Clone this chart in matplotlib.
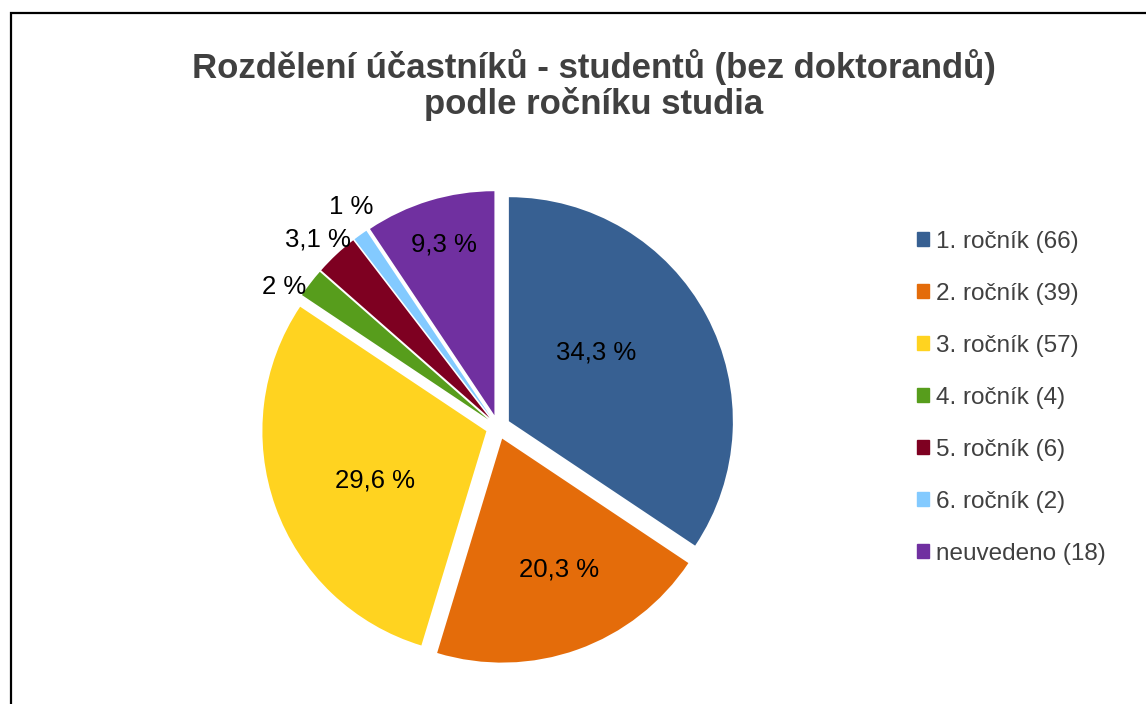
import numpy as np
import matplotlib
matplotlib.use("Agg")
import matplotlib.pyplot as plt
from matplotlib.patches import Rectangle

plt.rcParams['font.family'] = ['Liberation Sans', 'DejaVu Sans']

# data
categories = ["1. ročník", "2. ročník", "3. ročník", "4. ročník",
              "5. ročník", "6. ročník", "neuvedeno"]
counts = [66, 39, 57, 4, 6, 2, 18]
pct_labels = ["34,3 %", "20,3 %", "29,6 %", "2 %", "3,1 %", "1 %", "9,3 %"]
colors = ["#376092", "#E46C0A", "#FFD320", "#579D1C", "#7E0021", "#83CAFF", "#7030A0"]
# label placement: radius (pie radii) and small angle nudge from the slice middle
label_radius = [0.55, 0.69, 0.6, 1.14, 1.16, 1.18, 0.85]
label_shift = [-9, -3.4, -3.6, -4.2, -0.8, 2, 0.4]

title = "Rozdělení účastníků - studentů (bez doktorandů)\npodle ročníku studia"

W, H = 1146, 704
fig = plt.figure(figsize=(W / 100, H / 100), dpi=100)

# frame round the chart area (runs off right and bottom edge)
fig.patches.append(Rectangle((10.5 / W, -0.1), 1.2, 1 - 12.5 / H + 0.1,
                             transform=fig.transFigure, fill=False,
                             edgecolor="black", linewidth=1.6))

# pie axes: centre ~ (498, 427) px, radius ~224 px
R = 224
lim = 1.25
side = 2 * lim * R
cx, cy = 498, 427
ax = fig.add_axes([(cx - side / 2) / W, (H - cy - side / 2) / H, side / W, side / H])
ax.set_xlim(-lim, lim)
ax.set_ylim(-lim, lim)
ax.set_aspect("equal")
ax.axis("off")

wedges, _ = ax.pie(counts, colors=colors, startangle=90, counterclock=False,
                   explode=[0.055] * len(counts), radius=1.0,
                   wedgeprops=dict(linewidth=0))

total = sum(counts)
start = 0.0
for c, lab, r, sh in zip(counts, pct_labels, label_radius, label_shift):
    mid = start + c / total * 360 / 2
    start += c / total * 360
    a = np.deg2rad(mid + sh)
    ax.text(r * np.sin(a), r * np.cos(a), lab, ha="center", va="center",
            fontsize=18.5, color="black")

fig.text(594 / W, 1 - 85 / H, title, ha="center", va="center",
         fontsize=25, fontweight="bold", color="#404040", linespacing=1.05)

handles = [Rectangle((0, 0), 1, 1, color=col) for col in colors]
leg_labels = [f"{c} ({n})" for c, n in zip(categories, counts)]
leg = fig.legend(handles, leg_labels, loc="upper left",
                 bbox_to_anchor=(895 / W, 1 - 209 / H), frameon=False,
                 fontsize=17.5, labelcolor="#404040", handlelength=0.5,
                 handleheight=0.5, handletextpad=0.3, labelspacing=1.235)

fig.savefig("out.png", dpi=100, facecolor="white")
